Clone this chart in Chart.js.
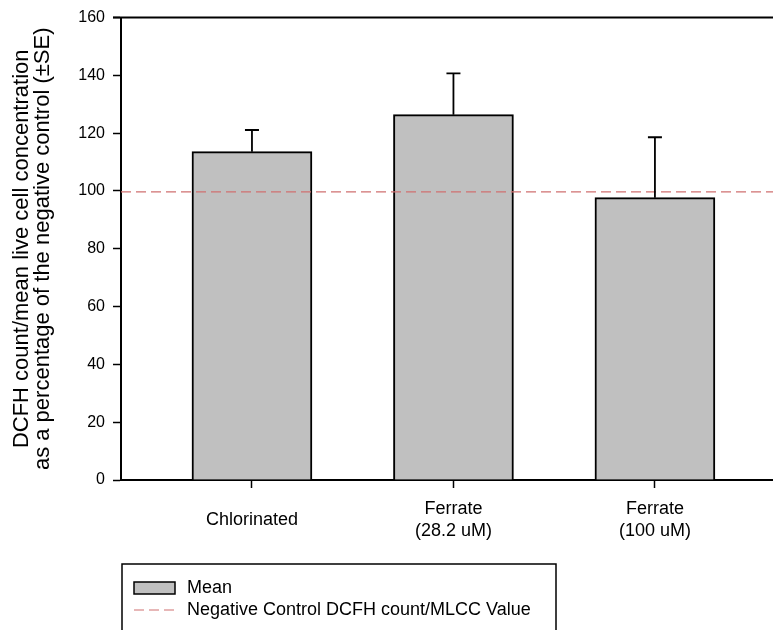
<!DOCTYPE html>
<html><head><meta charset="utf-8">
<script src="https://cdn.jsdelivr.net/npm/chart.js@4"></script>
<style>html,body{margin:0;padding:0;background:#fff;} canvas{display:block;}</style>
</head><body>
<canvas id="c" width="773" height="630"></canvas>
<script>
// ---- data ----
const categories = ['Chlorinated', ['Ferrate', '(28.2 uM)'], ['Ferrate', '(100 uM)']];
const meanValues = [113.6, 126.4, 97.7];
const seValues = [7.5, 14.3, 20.9];
const negativeControl = 99.7;
const yTicks = [0, 20, 40, 60, 80, 100, 120, 140, 160];
const seriesLabels = ['Mean', 'Negative Control DCFH count/MLCC Value'];
const yTitle = ['DCFH count/mean live cell concentration', 'as a percentage of the negative control (\u00B1SE)'];

// ---- styling ----
const FONT = 'Liberation Sans, Arial, sans-serif';
const X_MIN = -0.65, X_MAX = 2.586;
const BAR_FILL = '#c0c0c0';
const REF_COLOR = '#d07070';

const errorBars = {
  id: 'errorBars',
  afterDatasetsDraw(chart) {
    const {ctx, scales: {x, y}} = chart;
    ctx.save();
    ctx.strokeStyle = '#000';
    ctx.lineWidth = 1.8;
    meanValues.forEach((m, i) => {
      const px = x.getPixelForValue(i);
      const y0 = y.getPixelForValue(m);
      const y1 = y.getPixelForValue(m + seValues[i]);
      ctx.beginPath();
      ctx.moveTo(px, y0); ctx.lineTo(px, y1);
      ctx.moveTo(px - 7, y1); ctx.lineTo(px + 7, y1);
      ctx.stroke();
    });
    ctx.restore();
  }
};

const frame = {
  id: 'frame',
  afterDraw(chart) {
    const {ctx, chartArea: a} = chart;
    ctx.save();
    ctx.strokeStyle = '#000';
    ctx.lineWidth = 2;
    ctx.beginPath();
    ctx.moveTo(a.left - 8, a.top); ctx.lineTo(a.right, a.top);
    ctx.stroke();
    ctx.restore();
  }
};

const boxLegend = {
  id: 'boxLegend',
  afterDraw(chart) {
    const {ctx, chartArea: a} = chart;
    const ds = chart.data.datasets;
    const left = a.left + 1, top = a.bottom + 84, right = left + 434;
    ctx.save();
    ctx.strokeStyle = '#000';
    ctx.lineWidth = 1.5;
    ctx.beginPath();
    ctx.moveTo(left, chart.height + 5); ctx.lineTo(left, top); ctx.lineTo(right, top); ctx.lineTo(right, chart.height + 5);
    ctx.stroke();
    ctx.font = '18px ' + FONT;
    ctx.fillStyle = '#000';
    ctx.textBaseline = 'middle';
    // bar entry
    const sx = left + 12, sw = 41, tx = left + 65;
    let cy = top + 24;
    ctx.fillStyle = ds[0].backgroundColor;
    ctx.fillRect(sx, cy - 6, sw, 12);
    ctx.strokeStyle = '#000';
    ctx.lineWidth = 1.5;
    ctx.strokeRect(sx, cy - 6, sw, 12);
    ctx.fillStyle = '#000';
    ctx.fillText(ds[0].label, tx, cy);
    // line entry
    cy = top + 46;
    ctx.strokeStyle = ds[1].borderColor;
    ctx.lineWidth = ds[1].borderWidth;
    ctx.setLineDash(ds[1].borderDash);
    ctx.beginPath(); ctx.moveTo(sx, cy); ctx.lineTo(sx + sw, cy); ctx.stroke();
    ctx.setLineDash([]);
    ctx.fillText(ds[1].label, tx, cy);
    ctx.restore();
  }
};

new Chart(document.getElementById('c'), {
  data: {
    datasets: [
      {
        type: 'bar',
        label: seriesLabels[0],
        data: meanValues.map((v, i) => ({x: i, y: v})),
        backgroundColor: BAR_FILL,
        borderColor: '#000',
        borderWidth: 2,
        barThickness: 120,
        order: 2
      },
      {
        type: 'line',
        label: seriesLabels[1],
        data: [{x: X_MIN, y: negativeControl}, {x: X_MAX, y: negativeControl}],
        borderColor: REF_COLOR,
        borderWidth: 1.2,
        borderDash: [10, 5],
        pointRadius: 0,
        order: 1
      }
    ]
  },
  options: {
    responsive: false,
    devicePixelRatio: 1,
    animation: false,
    layout: {padding: {top: 16, right: 0, bottom: 70, left: 0}},
    plugins: {legend: {display: false}, tooltip: {enabled: false}},
    scales: {
      x: {
        type: 'linear',
        min: X_MIN, max: X_MAX,
        offset: false,
        afterBuildTicks: s => { s.ticks = categories.map((c, i) => ({value: i})); },
        ticks: {
          callback: (v, i) => categories[i],
          autoSkip: false, maxRotation: 0, minRotation: 0,
          crossAlign: 'center',
          padding: 21,
          color: '#000',
          font: {family: FONT, size: 18, lineHeight: 1.25}
        },
        grid: {offset: false, drawOnChartArea: false, drawTicks: true, tickLength: 8, color: '#000', tickWidth: 1.5},
        border: {color: '#000', width: 2},
        afterFit: s => { s.height = 80; }
      },
      y: {
        min: 0, max: 160,
        afterBuildTicks: s => { s.ticks = yTicks.map(v => ({value: v})); },
        ticks: {padding: 8, color: '#000', font: {family: FONT, size: 16}},
        grid: {drawOnChartArea: false, drawTicks: true, tickLength: 8, color: '#000', tickWidth: 1.5},
        border: {color: '#000', width: 2},
        title: {display: true, text: yTitle, color: '#000', font: {family: FONT, size: 22, lineHeight: 0.96}, padding: {top: 11, bottom: 0}},
        afterFit: s => { s.width = 121; }
      }
    }
  },
  plugins: [errorBars, frame, boxLegend]
});
</script>
</body></html>
